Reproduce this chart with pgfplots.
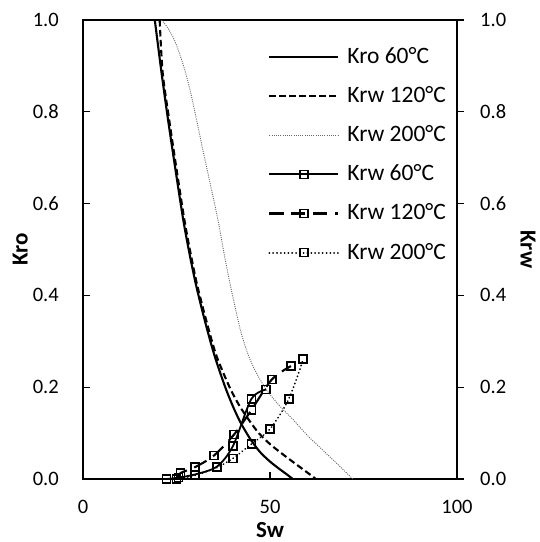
\documentclass[border=0pt]{standalone}
\usepackage{fontspec}
\setmainfont{Carlito}
\usepackage{pgfplots}
\pgfplotsset{compat=1.18}
\begin{document}
\fontsize{20.5}{24}\selectfont
\begin{tikzpicture}
\useasboundingbox (0,0) rectangle (540pt,542pt);
\pgfplotsset{
  common/.style={
    at={(83pt,63pt)}, anchor=south west,
    width=374pt, height=459pt, scale only axis,
    xmin=0, xmax=100, ymin=0, ymax=1,
    /pgf/number format/assume math mode=true,
    tick style={black, line width=1.1pt},
    major tick length=7pt,
    axis line style={line width=1.9pt},
    ytick={0,0.2,0.4,0.6,0.8,1.0},
    yticklabel style={/pgf/number format/fixed, /pgf/number format/fixed zerofill, /pgf/number format/precision=1},
    label style={font=\fontsize{23}{27}\selectfont\bfseries},
  }
}
% ---------- primary axis: Kro ----------
\begin{axis}[common,
  xtick={0,50,100},
  xtick pos=bottom, ytick pos=left, tick align=inside,
  xticklabel style={inner sep=0pt, yshift=-21pt},
  yticklabel style={inner sep=0pt, xshift=-24pt},
  xlabel={Sw},
  xlabel style={at={(axis description cs:0.5,-0.111)}, anchor=center},
  ylabel={Kro},
  ylabel style={at={(axis description cs:-0.168,0.5)}, anchor=center},
]
% Kro 60C
\addplot[black, line width=2.1pt, smooth, tension=0.5] coordinates {
(19.2,1.000) (21.0,0.885) (22.7,0.785) (24.8,0.670) (26.8,0.565) (28.5,0.490)
(30.3,0.420) (32.8,0.338) (35.2,0.268) (37.9,0.203) (40.0,0.160) (42.0,0.125)
(44.5,0.090) (47.2,0.060) (50.0,0.038) (52.5,0.022) (54.5,0.010) (56.1,0.000)};
% Kro 120C
\addplot[black, line width=2.1pt, dash pattern=on 6.5pt off 3.5pt, smooth, tension=0.5] coordinates {
(20.5,1.000) (21.3,0.885) (23.0,0.785) (25.1,0.670) (27.1,0.565) (28.8,0.490)
(30.6,0.420) (33.2,0.338) (35.7,0.268) (39.2,0.200) (41.8,0.160) (44.5,0.127)
(47.0,0.100) (50.0,0.076) (53.4,0.054) (56.0,0.038) (59.0,0.020) (62.3,0.000)};
% Kro 200C
\addplot[black!60, line width=0.9pt, dash pattern=on 1pt off 1.2pt, smooth, tension=0.5] coordinates {
(21.0,1.000) (22.5,0.985) (24.5,0.955) (26.5,0.910) (28.4,0.855) (30.3,0.785)
(32.1,0.715) (34.1,0.640) (36.1,0.564) (37.7,0.492) (39.2,0.430) (40.8,0.370)
(42.3,0.318) (44.2,0.270) (46.3,0.232) (49.0,0.195) (52.5,0.160) (56.1,0.130)
(60.0,0.095) (65.0,0.056) (69.0,0.025) (72.1,0.000)};
\end{axis}
% ---------- secondary axis: Krw ----------
\begin{axis}[common,
  axis x line=none, axis y line*=right,
  ytick pos=right, tick align=outside,
  yticklabel style={inner sep=0pt, xshift=16pt},
  ylabel={Krw},
  ylabel style={at={(axis description cs:1.19,0.5)}, anchor=center, rotate=180},
  legend style={draw=none, fill=none, at={(0.495,0.943)}, anchor=north west,
    inner sep=0pt, row sep=18pt,
    nodes={inner sep=1pt},
    /tikz/every odd column/.append style={column sep=7pt},
    font=\fontsize{23.5}{27}\selectfont},
  legend cell align=left,
  legend image code/.code={\draw[mark repeat=2, mark phase=2, #1] plot coordinates {(0pt,0pt) (34.5pt,0pt) (69pt,0pt)};},
]
\addlegendimage{black, line width=2.1pt}
\addlegendentry{Kro 60°C}
\addlegendimage{black, line width=2.1pt, dash pattern=on 6.5pt off 3.5pt}
\addlegendentry{Krw 120°C}
\addlegendimage{black!60, line width=0.9pt, dash pattern=on 1pt off 1.2pt}
\addlegendentry{Krw 200°C}
% Krw 60C
\addplot[black, line width=1.8pt, smooth, tension=0.5, mark=square, mark size=4pt, mark options={solid, line width=1.6pt}] coordinates {
(22.3,0.000) (25.5,0.003) (30.0,0.010) (35.8,0.027) (40.1,0.072) (45.0,0.174) (49.0,0.195)};
\addlegendentry{Krw 60°C}
% Krw 120C
\addplot[black, line width=2.1pt, dash pattern=on 14pt off 8pt, smooth, tension=0.5, mark=square, mark size=4pt, mark options={solid, line width=1.6pt}] coordinates {
(25.0,0.000) (26.1,0.013) (30.0,0.026) (35.0,0.051) (40.4,0.097) (45.0,0.150) (50.5,0.217) (55.6,0.246)};
\addlegendentry{Krw 120°C}
% Krw 200C
\addplot[black, line width=2pt, line cap=round, dash pattern=on 0.01pt off 3.8pt, smooth, tension=0.5, mark=square, mark size=4pt, mark options={solid, line width=1.6pt, line cap=butt}] coordinates {
(25.0,0.000) (30.0,0.008) (35.8,0.025) (40.1,0.045) (45.0,0.076) (50.0,0.109) (55.0,0.174) (58.9,0.261)};
\addlegendentry{Krw 200°C}
\end{axis}
\end{tikzpicture}
\end{document}
